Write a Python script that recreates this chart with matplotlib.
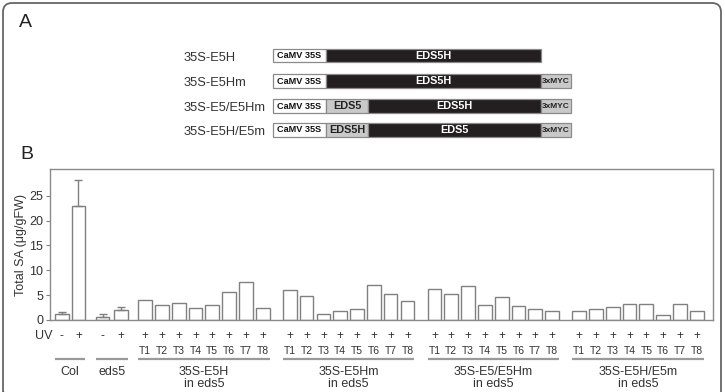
import matplotlib
matplotlib.use('Agg')
import matplotlib.pyplot as plt
from matplotlib.patches import Rectangle, FancyBboxPatch
import matplotlib.transforms as mtransforms

plt.rcParams['font.family'] = ['Liberation Sans', 'DejaVu Sans']

# ---------------- data ----------------
construct_names = ['35S-E5H', '35S-E5Hm', '35S-E5/E5Hm', '35S-E5H/E5m']
construct_parts = [
    ['CaMV 35S', 'EDS5H'],
    ['CaMV 35S', 'EDS5H', '3xMYC'],
    ['CaMV 35S', 'EDS5', 'EDS5H', '3xMYC'],
    ['CaMV 35S', 'EDS5H', 'EDS5', '3xMYC'],
]
construct_lengths = [
    [53, 215],
    [53, 215, 30],
    [53, 42, 173, 30],
    [53, 42, 173, 30],
]
construct_kinds = [
    ['promoter', 'dark'],
    ['promoter', 'dark', 'tag'],
    ['promoter', 'light', 'dark', 'tag'],
    ['promoter', 'light', 'dark', 'tag'],
]

control_groups = ['Col', 'eds5']
control_uv = ['-', '+', '-', '+']
control_values = [1.2, 23.0, 0.55, 2.0]
control_err = [0.5, 5.2, 0.6, 0.7]

line_groups = ['35S-E5H', '35S-E5Hm', '35S-E5/E5Hm', '35S-E5H/E5m']
line_labels = ['T1', 'T2', 'T3', 'T4', 'T5', 'T6', 'T7', 'T8']
vals_e5h = [4.1, 2.95, 3.5, 2.35, 3.1, 5.7, 7.7, 2.5]
vals_e5hm = [6.0, 4.8, 1.15, 1.75, 2.2, 7.0, 5.2, 3.8]
vals_e5_e5hm = [6.2, 5.2, 6.8, 3.0, 4.7, 2.8, 2.3, 1.9]
vals_e5h_e5m = [1.9, 2.3, 2.55, 3.2, 3.2, 1.07, 3.2, 1.9]
line_values = [vals_e5h, vals_e5hm, vals_e5_e5hm, vals_e5h_e5m]

yticks = [0, 5, 10, 15, 20, 25]
ylabel = 'Total SA (\u03bcg/gFW)'

# ---------------- figure ----------------
W, H = 725, 392
fig = plt.figure(figsize=(W / 100, H / 100), dpi=100)

txt = '#333333'
edge = '#808080'

# overlay axes in pixel coordinates (frame + panel A)
ov = fig.add_axes([0, 0, 1, 1], zorder=0)
ov.set_xlim(0, W)
ov.set_ylim(H, 0)
ov.axis('off')

frame = FancyBboxPatch((3, 3), 718, 398, boxstyle='round,pad=0,rounding_size=9',
                       fill=False, ec='#666666', lw=1.3, clip_on=False)
ov.add_patch(frame)

ov.text(25, 22, 'A', fontsize=14, color='#222222', ha='center', va='center')
ov.text(27, 154, 'B', fontsize=14, color='#222222', ha='center', va='center')

row_y = [55.5, 81, 106, 130]
row_h = 13.5
x0 = 273
kind_fc = {'promoter': 'white', 'dark': '#231f20', 'light': '#c9c9c9', 'tag': '#c9c9c9'}
kind_tc = {'promoter': '#111111', 'dark': 'white', 'light': '#222222', 'tag': '#222222'}
kind_fs = {'promoter': 6.6, 'dark': 7.8, 'light': 7.8, 'tag': 6.0}
for i, name in enumerate(construct_names):
    y = row_y[i]
    ov.text(184, y + 2, name, fontsize=9.3, color=txt, ha='left', va='center')
    x = x0
    for part, ln, kind in zip(construct_parts[i], construct_lengths[i], construct_kinds[i]):
        ov.add_patch(Rectangle((x, y - row_h / 2), ln, row_h, fc=kind_fc[kind],
                               ec='#8a8a8a', lw=0.9))
        ov.text(x + ln / 2, y, part, fontsize=kind_fs[kind], color=kind_tc[kind], ha='center',
                va='center', fontweight='bold')
        x += ln

# ---------------- panel B ----------------
ax = fig.add_axes([50 / W, (H - 320) / H, 662.7 / W, 151 / H], zorder=1)
ax.patch.set_alpha(0)

step = 1.0
ctrl_pos = [0, 0.98, 2.42, 3.5]
grp_start = [4.95 + g * 8.61 for g in range(4)]
bw = 0.815

ax.bar(ctrl_pos, control_values, width=bw, color='white', edgecolor=edge, lw=1.0,
       yerr=[[0] * 4, control_err], error_kw=dict(ecolor=edge, elinewidth=1.0, capsize=3, capthick=1.0))
line_pos = []
for g, vals in enumerate(line_values):
    pos = [grp_start[g] + k * step for k in range(len(vals))]
    line_pos.append(pos)
    ax.bar(pos, vals, width=bw, color='white', edgecolor=edge, lw=1.0)

ax.set_xlim(-0.71, 38.73)
ax.set_ylim(0, 30.4)
ax.set_xticks([])
ax.set_yticks(yticks)
ax.tick_params(axis='y', length=3, width=0.8, color=edge, labelsize=9, labelcolor=txt, pad=2)
for s in ax.spines.values():
    s.set_color('#8a8a8a')
    s.set_linewidth(1.0)

fig.text(21 / W, 1 - 245 / H, ylabel, rotation=90, fontsize=9, color=txt,
         ha='center', va='center')

tr = mtransforms.blended_transform_factory(ax.transData, fig.transFigure)
fy = lambda py: 1 - py / H

fig.text(53 / W, fy(336), 'UV', fontsize=9, color=txt, ha='right', va='center')
for p, s in zip(ctrl_pos, control_uv):
    fig.text(p, fy(336), s, transform=tr, fontsize=8.5, color=txt, ha='center', va='center')
for g in range(4):
    for p, lab in zip(line_pos[g], line_labels):
        fig.text(p, fy(336), '+', transform=tr, fontsize=8.5, color=txt, ha='center', va='center')
        fig.text(p, fy(351), lab, transform=tr, fontsize=7.5, color=txt, ha='center', va='center')

def underline(p0, p1):
    ax.plot([p0 - bw / 2, p1 + bw / 2], [fy(359), fy(359)], transform=tr,
            color='#9a9a9a', lw=1.6, clip_on=False, solid_capstyle='butt')

underline(ctrl_pos[0], ctrl_pos[1])
underline(ctrl_pos[2], ctrl_pos[3])
fig.text((ctrl_pos[0] + ctrl_pos[1]) / 2, fy(372), control_groups[0], transform=tr,
         fontsize=9, color=txt, ha='center', va='center')
fig.text((ctrl_pos[2] + ctrl_pos[3]) / 2, fy(372), control_groups[1], transform=tr,
         fontsize=9, color=txt, ha='center', va='center')
for g in range(4):
    underline(line_pos[g][0], line_pos[g][-1])
    c = (line_pos[g][0] + line_pos[g][-1]) / 2
    fig.text(c, fy(372), line_groups[g], transform=tr, fontsize=9, color=txt,
             ha='center', va='center')
    fig.text(c, fy(384), 'in eds5', transform=tr, fontsize=9, color=txt,
             ha='center', va='center')

fig.savefig('out.png', dpi=100)
